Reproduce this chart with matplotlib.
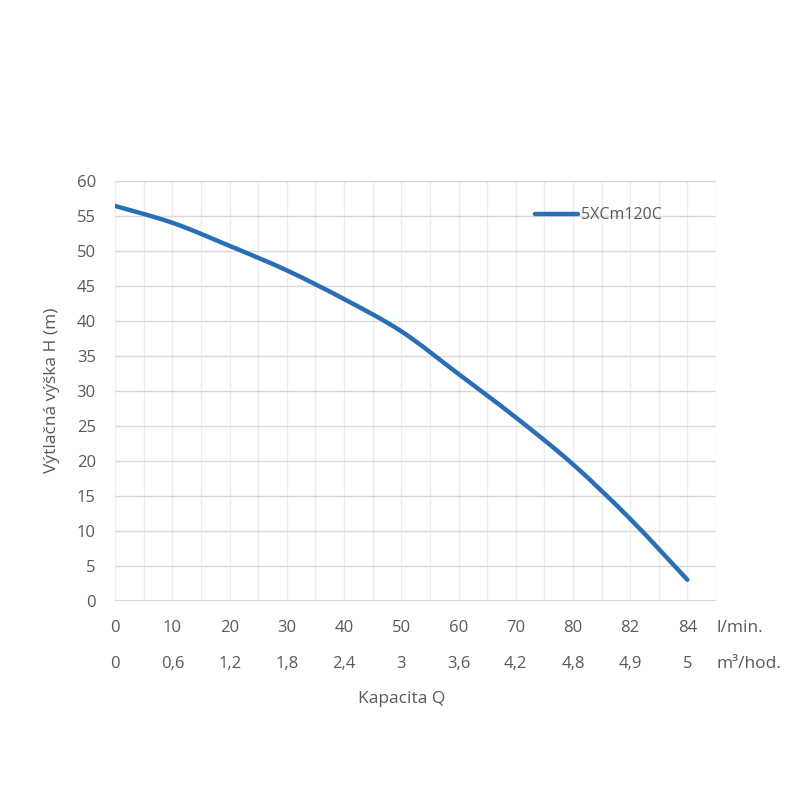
import numpy as np
import matplotlib.pyplot as plt
import matplotlib.transforms as mtransforms
import matplotlib.lines as mlines
from matplotlib.path import Path
from matplotlib.patches import PathPatch

# ==============================
# DATA
# ==============================
flow_lmin = ["0", "10", "20", "30", "40", "50", "60", "70", "80", "82", "84"]
flow_m3h = ["0", "0,6", "1,2", "1,8", "2,4", "3", "3,6", "4,2", "4,8", "4,9", "5"]
head_m = [56.4, 54.0, 50.7, 47.2, 43.1, 38.5, 32.4, 26.2, 19.5, 11.7, 3.0]
series_name = "5XCm120C"

# ==============================
# STYLE
# ==============================
plt.rcParams['font.family'] = ['Open Sans', 'DejaVu Sans']
txt_color = "#595959"
line_color = "#2a6fb5"

fig = plt.figure(figsize=(8, 8), dpi=100)
ax = fig.add_axes([0.144, 0.249, 0.751, 0.525])

pos = np.arange(len(head_m), dtype=float)
ys = np.array(head_m)


def smooth_path(x, y):
    # Excel-like smoothed line: Bezier segments through every point
    verts = [(x[0], y[0])]
    codes = [Path.MOVETO]
    n = len(x)
    for i in range(n - 1):
        x0, y0 = (x[i - 1], y[i - 1]) if i > 0 else (x[i], y[i])
        x3, y3 = (x[i + 2], y[i + 2]) if i + 2 < n else (x[i + 1], y[i + 1])
        c1 = (x[i] + (x[i + 1] - x0) / 6, y[i] + (y[i + 1] - y0) / 6)
        c2 = (x[i + 1] - (x3 - x[i]) / 6, y[i + 1] - (y3 - y[i]) / 6)
        verts += [c1, c2, (x[i + 1], y[i + 1])]
        codes += [Path.CURVE4] * 3
    return Path(verts, codes)


ax.add_patch(PathPatch(smooth_path(pos, ys), facecolor="none", edgecolor=line_color,
                       linewidth=3.2, capstyle="round", zorder=3))

ax.set_xlim(0, 10.5)
ax.set_ylim(0, 60)
ax.set_yticks(np.arange(0, 61, 5))
ax.set_xticks(np.arange(0, 10.51, 0.5))
ax.set_xticklabels([])
ax.tick_params(axis="both", length=0)
ax.tick_params(axis="y", labelsize=12, labelcolor=txt_color, pad=14)

ax.grid(axis="y", color="#d9d9d9", linewidth=1.0)
ax.grid(axis="x", color="#ececec", linewidth=1.0)
ax.set_axisbelow(True)
for s in ax.spines.values():
    s.set_visible(False)
ax.axhline(0, color="#d0d0d0", linewidth=1.2, zorder=1)

# two rows of x labels
trans = mtransforms.blended_transform_factory(ax.transData, ax.transAxes)
for p, a, b in zip(pos, flow_lmin, flow_m3h):
    ax.text(p, -0.065, a, transform=trans, ha="center", va="center",
            fontsize=12, color=txt_color)
    ax.text(p, -0.15, b, transform=trans, ha="center", va="center",
            fontsize=12, color=txt_color)
ax.text(1.0, -0.065, "l/min.", transform=ax.transAxes, ha="left", va="center",
        fontsize=12.5, color=txt_color)
ax.text(1.0, -0.15, "m³/hod.", transform=ax.transAxes, ha="left", va="center",
        fontsize=12.5, color=txt_color)
ax.text(5.0, -0.233, "Kapacita Q", transform=trans, ha="center", va="center",
        fontsize=12.5, color=txt_color)

ax.set_ylabel("Výtlačná výška H (m)", fontsize=12.5, color=txt_color, labelpad=12)

handle = mlines.Line2D([], [], color=line_color, linewidth=3.2,
                       solid_capstyle="round", label=series_name)
leg = ax.legend(handles=[handle], loc="upper left", bbox_to_anchor=(0.688, 0.952),
                frameon=False, fontsize=11.5, handlelength=2.7, handletextpad=0.2,
                borderaxespad=0)
for t in leg.get_texts():
    t.set_color(txt_color)

fig.savefig("out.png", dpi=100, facecolor="white")
